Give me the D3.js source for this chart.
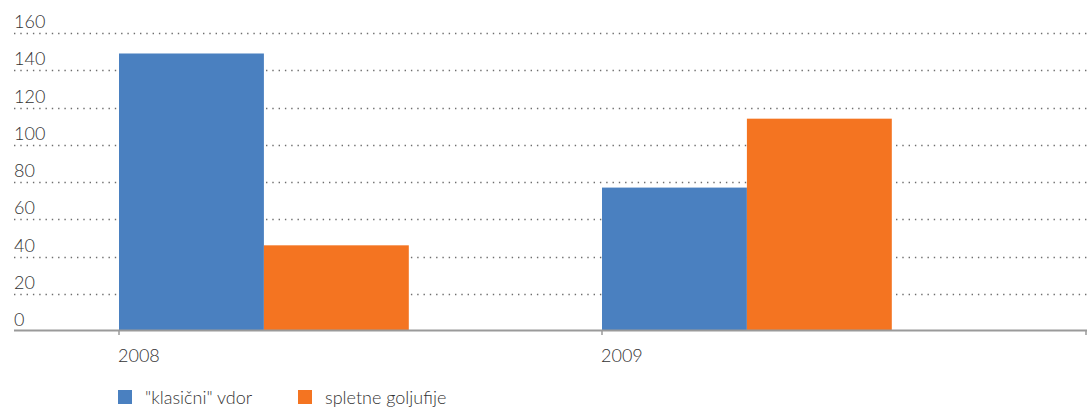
<!DOCTYPE html>
<html>
<head>
<meta charset="utf-8">
<script src="https://cdn.jsdelivr.net/npm/d3@7"></script>
<style>
  html, body { margin: 0; padding: 0; background: #fff; }
  svg text { font-family: Lato, "Open Sans", sans-serif; font-weight: 300; fill: #333; }
</style>
</head>
<body>
<svg id="chart" width="1087" height="409"></svg>
<script>
// Categories, series and values
const years = ["2008", "2009"];
const seriesNames = ["\"klasični\" vdor", "spletne goljufije"];
const seriesColors = ["#4a80c0", "#f47421"];
const classicBreakIns = [149, 77];
const onlineFraud = [46, 114];
const yTicks = [0, 20, 40, 60, 80, 100, 120, 140, 160];

const svg = d3.select("#chart");

const plotLeft = 14, axisLeft = 119, axisRight = 1086;
const y = d3.scaleLinear().domain([0, 160]).range([331, 33]);
const x = d3.scaleBand().domain(years).range([axisLeft, axisRight - 1]).paddingInner(0).paddingOuter(0);
// Bars sit at the start of each band and fill 60% of it
const xs = d3.scaleBand().domain(seriesNames).range([0, x.bandwidth() * 0.6]).padding(0);

const rows = years.map((yr, i) => ({ year: yr, values: [classicBreakIns[i], onlineFraud[i]] }));

// Dotted gridlines
svg.append("g").selectAll("line")
  .data(yTicks.filter(d => d > 0))
  .join("line")
  .attr("x1", plotLeft).attr("x2", axisRight + 1)
  .attr("y1", d => Math.round(y(d)) + 0.5).attr("y2", d => Math.round(y(d)) + 0.5)
  .attr("stroke", "#6e6e6e").attr("stroke-width", 1.4)
  .attr("stroke-dasharray", "1.4,4.9");

// Y labels sit above their gridlines
svg.append("g").selectAll("text")
  .data(yTicks)
  .join("text")
  .attr("x", plotLeft).attr("y", d => y(d) - 5)
  .attr("font-size", 18)
  .attr("fill", "#3a3a3a")
  .text(d => d);

// Bars
const groups = svg.append("g").selectAll("g")
  .data(rows)
  .join("g")
  .attr("transform", d => `translate(${x(d.year)},0)`);
groups.selectAll("rect")
  .data(d => d.values.map((v, i) => ({ key: seriesNames[i], value: v, i })))
  .join("rect")
  .attr("x", d => xs(d.key))
  .attr("width", xs.bandwidth())
  .attr("y", d => y(d.value))
  .attr("height", d => y(0) - y(d.value))
  .attr("fill", d => seriesColors[d.i]);

// X axis line and ticks
const xAxis = svg.append("g");
xAxis.append("line")
  .attr("x1", plotLeft).attr("x2", axisRight + 1)
  .attr("y1", 330.5).attr("y2", 330.5)
  .attr("stroke", "#9a9a9a").attr("stroke-width", 2);
xAxis.selectAll("line.tick")
  .data(years.map(d => x(d)).concat([axisRight]))
  .join("line").attr("class", "tick")
  .attr("x1", d => d).attr("x2", d => d)
  .attr("y1", 330).attr("y2", 335)
  .attr("stroke", "#9a9a9a").attr("stroke-width", 1.5);
xAxis.selectAll("text")
  .data(years)
  .join("text")
  .attr("x", d => x(d) - 1).attr("y", 362)
  .attr("font-size", 18)
  .attr("fill", "#333")
  .text(d => d);

// Legend
const legend = svg.append("g");
const legendX = [118, 298];
seriesNames.forEach((name, i) => {
  legend.append("rect")
    .attr("x", legendX[i]).attr("y", 390)
    .attr("width", 14).attr("height", 14)
    .attr("fill", seriesColors[i]);
  legend.append("text")
    .attr("x", legendX[i] + 27).attr("y", 404)
    .attr("font-size", 18)
    .attr("fill", "#3a3a3a")
    .text(name);
});
</script>
</body>
</html>
